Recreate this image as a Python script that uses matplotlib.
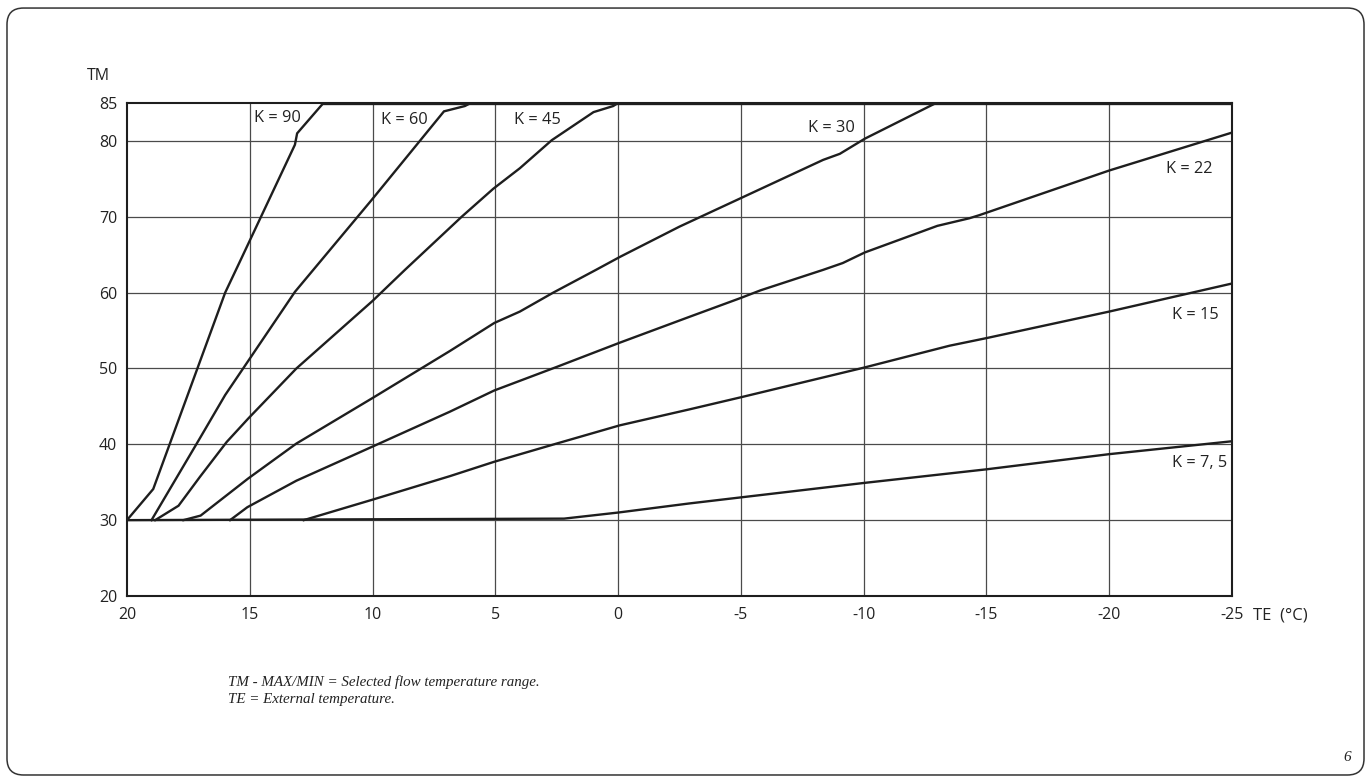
import matplotlib.pyplot as plt
from matplotlib.patches import FancyBboxPatch

plt.rcParams['font.family'] = ['Open Sans', 'DejaVu Sans']

# 外部温度 TE / 供水温度 TM 曲线 (K 值)
te_k90 = [20, 18.93, 16.0, 15.4, 13.16, 13.07, 12.0]
tm_k90 = [30, 34.1, 60.0, 64.1, 79.5, 81.0, 85]

te_k60 = [19.0, 17.03, 16.0, 13.16, 10.04, 7.09, 6.24, 6.0]
tm_k60 = [30, 40.8, 46.5, 60.1, 72.2, 83.9, 84.6, 85]

te_k45 = [18.85, 17.9, 17.03, 15.94, 15.06, 13.1, 10.0, 8.68, 6.37, 5.08, 4.0, 2.7, 1.0, 0.2, 0.0]
tm_k45 = [30, 31.9, 35.7, 40.3, 43.4, 50.0, 58.9, 63.0, 70.0, 73.7, 76.4, 80.1, 83.8, 84.6, 85]

te_k30 = [17.7, 17.0, 15.06, 13.1, 10.0, 6.85, 5.04, 4.0, 2.64, 0.9, -0.07, -2.5, -4.96, -8.35, -9.03,
          -10.05, -12.7, -12.95]
tm_k30 = [30, 30.6, 35.5, 40.1, 46.1, 52.3, 56.0, 57.5, 60.0, 63.0, 64.7, 68.7, 72.4, 77.5, 78.3,
          80.3, 84.6, 85]

te_k22 = [15.8, 15.1, 13.1, 10.0, 6.85, 5.04, 2.5, -0.07, -2.9, -5.0, -5.8, -8.35, -9.15, -10.05,
          -13.0, -14.3, -14.7, -20.0, -25.0]
tm_k22 = [30, 31.7, 35.2, 39.7, 44.3, 47.1, 50.2, 53.4, 56.8, 59.3, 60.3, 63.0, 63.9, 65.3,
          68.8, 69.8, 70.2, 76.1, 81.1]

te_k15 = [12.8, 10.0, 6.85, 5.04, 2.5, -0.07, -2.9, -5.0, -10.0, -13.5, -15.0, -20.0, -25.0]
tm_k15 = [30, 32.7, 35.8, 37.7, 40.1, 42.5, 44.6, 46.2, 50.1, 53.0, 54.0, 57.5, 61.2]

te_k75 = [20, 2.2, 0.0, -2.9, -5.0, -10.0, -15.0, -20.0, -25.0]
tm_k75 = [30, 30.2, 31.0, 32.2, 33.0, 34.9, 36.7, 38.7, 40.4]

curves = [(te_k90, tm_k90), (te_k60, tm_k60), (te_k45, tm_k45), (te_k30, tm_k30),
          (te_k22, tm_k22), (te_k15, tm_k15), (te_k75, tm_k75)]

# 曲线标签及位置
k_labels = ["K = 90", "K = 60", "K = 45", "K = 30", "K = 22", "K = 15", "K = 7, 5"]
k_label_te = [13.87, 8.72, 3.29, -8.7, -23.28, -23.5, -23.7]
k_label_tm = [83.0, 82.7, 82.75, 81.7, 76.25, 57.0, 37.5]

x_ticks = [20, 15, 10, 5, 0, -5, -10, -15, -20, -25]
y_ticks = [20, 30, 40, 50, 60, 70, 80, 85]

fig = plt.figure(figsize=(13.71, 7.81), dpi=100)
ax = fig.add_axes([0.0926, 0.2369, 0.8060, 0.6312])

# 网格
for x in x_ticks[1:-1]:
    ax.plot([x, x], [20, 85], color="#4a4a4a", lw=0.9, zorder=1)
for y in y_ticks[1:-1]:
    ax.plot([20, -25], [y, y], color="#4a4a4a", lw=0.9, zorder=1)

for te, tm in curves:
    ax.plot(te, tm, color="#1e1e1e", lw=1.7, solid_joinstyle="miter", zorder=3)

# 最高温度线
ax.plot([12.0, -25], [85, 85], color="#1e1e1e", lw=2.4, zorder=3)

for text, x, y in zip(k_labels, k_label_te, k_label_tm):
    ax.text(x, y, text, ha="center", va="center", fontsize=11.8, color="#222222")

ax.set_xlim(20, -25)
ax.set_ylim(20, 85)
ax.set_xticks(x_ticks)
ax.set_yticks(y_ticks)
ax.set_xticklabels([str(v) for v in x_ticks])
ax.tick_params(length=0, labelsize=11.5, colors="#222222", pad=7)
ax.tick_params(axis="x", pad=8)
for side in ["left", "bottom", "right", "top"]:
    ax.spines[side].set_linewidth(1.5)
    ax.spines[side].set_color("#1e1e1e")

fig.text(0.0715, 0.903, "TM", ha="center", va="center", fontsize=11.5, color="#222222")
fig.text(0.9138, 0.2125, "TE  (°C)", ha="left", va="center", fontsize=12, color="#222222")

caption = "TM - MAX/MIN = Selected flow temperature range.\nTE = External temperature."
fig.text(0.1663, 0.1155, caption, ha="left", va="center", fontsize=10.8, color="#222222",
         family="Liberation Serif", style="italic", linespacing=1.35)
fig.text(0.9825, 0.0307, "6", ha="center", va="center", fontsize=11, color="#222222",
         family="Liberation Serif", style="italic")

# 外框
frame = FancyBboxPatch((0.0051, 0.0077), 0.9898, 0.982, boxstyle="round,pad=0,rounding_size=0.012",
                       transform=fig.transFigure, fill=False, edgecolor="#333333", lw=1.1,
                       mutation_aspect=1371 / 781)
fig.patches.append(frame)

plt.savefig("out.png", dpi=100)
